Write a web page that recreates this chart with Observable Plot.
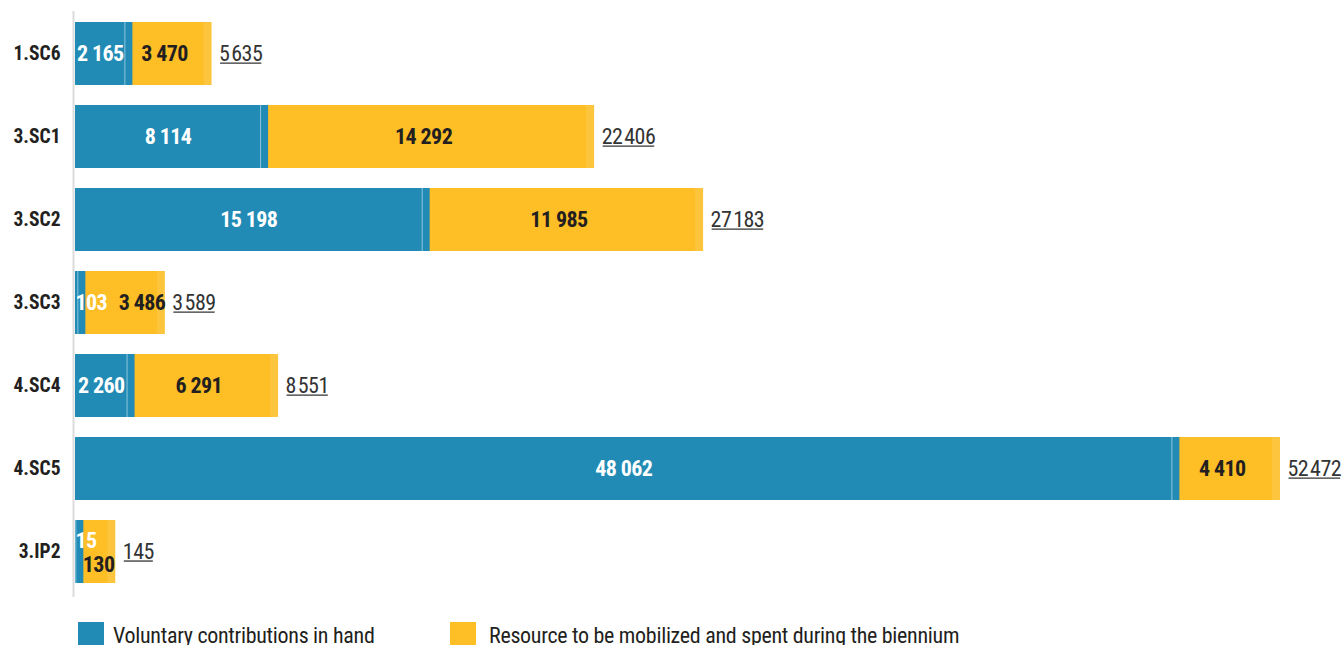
<!DOCTYPE html>
<html>
<head>
<meta charset="utf-8">
<script src="https://cdn.jsdelivr.net/npm/d3@7"></script>
<script src="https://cdn.jsdelivr.net/npm/@observablehq/plot@0.6"></script>
<style>
  body { margin: 0; background: #fff; }
  #chart { width: 1344px; font-family: "Roboto Condensed", "Liberation Sans Narrow", "Arial Narrow", Roboto, sans-serif; }
  .legend { display: flex; align-items: center; padding-left: 78px; margin-top: 16px; font-size: 22px; color: #231F20; letter-spacing: -0.3px; }
  .legend .item { display: flex; align-items: center; }
  .legend .item:first-child { width: 372px; }
  .legend .sw { width: 26px; height: 26px; margin-right: 9px; }
  .legend .item:last-child .sw { margin-right: 13px; }
</style>
</head>
<body>
<div id="chart"></div>
<script>
const categories = ["1.SC6", "3.SC1", "3.SC2", "3.SC3", "4.SC4", "4.SC5", "3.IP2"];
const inHand     = [2165, 8114, 15198, 103, 2260, 48062, 15];
const toMobilize = [3470, 14292, 11985, 3486, 6291, 4410, 130];
const totals     = [5635, 22406, 27183, 3589, 8551, 52472, 145];
const seriesNames = ["Voluntary contributions in hand", "Resource to be mobilized and spent during the biennium"];

const BLUE = "#228BB5", YELLOW = "#FDBE26", YELLOW_EDGE = "#FDC53D", INK = "#231F20", TOTAL_INK = "#333333";
const minShown = 1400; // smallest drawn bar length (data units) so its labels fit

const fmt = v => d3.format(",")(v).replace(/,/g, " ");
const fmtTotal = v => d3.format(",")(v).replace(/,/g, "\u200A");

const rows = categories.map((c, i) => {
  const b = inHand[i], y = toMobilize[i];
  const end = Math.max(totals[i], b + minShown);
  const tinyBlue = b < 1000;
  const tinyAll = totals[i] < 1000;
  return {cat: c, b, y, total: totals[i], end, tinyBlue, tinyAll};
});

const normal = rows.filter(r => !r.tinyBlue);
const tinyB = rows.filter(r => r.tinyBlue && !r.tinyAll);
const tinyA = rows.filter(r => r.tinyAll);
const inner = {fontWeight: "bold", fontSize: 22};

const plot = Plot.plot({
  width: 1344,
  height: 606,
  marginLeft: 75,
  marginRight: 72,
  marginTop: 0,
  marginBottom: 0,
  style: {fontFamily: "inherit", fontSize: "20px", color: INK},
  x: {domain: [0, 52472], axis: null},
  y: {domain: categories, padding: 0.235, label: null, axis: null},
  marks: [
    Plot.axisY({tickSize: 0, tickPadding: 15, fontWeight: "bold", fontSize: 19.5, label: null}),
    // yellow light edge (overlap artifact)
    Plot.barX(rows, {y: "cat", x1: "b", x2: "end", fill: YELLOW_EDGE, insetRight: -8}),
    Plot.barX(rows, {y: "cat", x1: "b", x2: "end", fill: YELLOW}),
    Plot.barX(rows, {y: "cat", x1: 0, x2: "b", fill: BLUE, insetRight: -8}),
    Plot.tickX(rows, {y: "cat", x: "b", stroke: "#8cc6dc", strokeWidth: 1}),
    Plot.ruleX([0], {dx: -2, stroke: "#dcdcdc", strokeWidth: 2, insetTop: 11, insetBottom: 9}),
    // blue labels
    Plot.text(normal, {y: "cat", x: r => r.b / 2, text: r => fmt(r.b), fill: "white", ...inner}),
    Plot.text(tinyB, {y: "cat", x: 0, text: r => fmt(r.b), fill: "white", ...inner, textAnchor: "start", dx: 0}),
    Plot.text(tinyA, {y: "cat", x: 0, text: r => fmt(r.b), fill: "white", ...inner, textAnchor: "start", dx: 0, dy: -11}),
    // yellow labels
    Plot.text(normal, {y: "cat", x: r => r.b + r.y / 2, text: r => fmt(r.y), fill: INK, ...inner}),
    Plot.text(tinyB, {y: "cat", x: "end", text: r => fmt(r.y), fill: INK, ...inner, textAnchor: "end", dx: 8}),
    Plot.text(tinyA, {y: "cat", x: "b", text: r => fmt(r.y), fill: INK, ...inner, textAnchor: "start", dx: 7, dy: 13}),
    // totals
    Plot.text(rows, {y: "cat", x: "end", text: r => fmtTotal(r.total), fill: TOTAL_INK, fontSize: 22, textAnchor: "start", dx: 15})
  ]
});

const chart = document.getElementById("chart");
chart.appendChild(plot);

const svg = d3.select(plot);
svg.selectAll('g[font-weight="bold"][font-size="22"] text').style("letter-spacing", "-0.6px");
// underline the totals
svg.selectAll(`g[fill="${TOTAL_INK}"]`).each(function () {
  const g = d3.select(this);
  g.style("letter-spacing", "-0.5px");
  g.selectAll("text").each(function () {
    const bb = this.getBBox();
    const t = this.getAttribute("transform");
    const ln = d3.select(this.parentNode).append("line")
      .attr("x1", bb.x + 1).attr("x2", bb.x + bb.width - 1)
      .attr("y1", bb.y + bb.height - 3).attr("y2", bb.y + bb.height - 3)
      .attr("stroke", TOTAL_INK).attr("stroke-width", 1.3);
    if (t) ln.attr("transform", t);
  });
});

const legend = document.createElement("div");
legend.className = "legend";
[[BLUE, seriesNames[0]], [YELLOW, seriesNames[1]]].forEach(([c, t]) => {
  const it = document.createElement("div");
  it.className = "item";
  it.innerHTML = `<span class="sw" style="background:${c}"></span><span>${t}</span>`;
  legend.appendChild(it);
});
chart.appendChild(legend);
</script>
</body>
</html>
